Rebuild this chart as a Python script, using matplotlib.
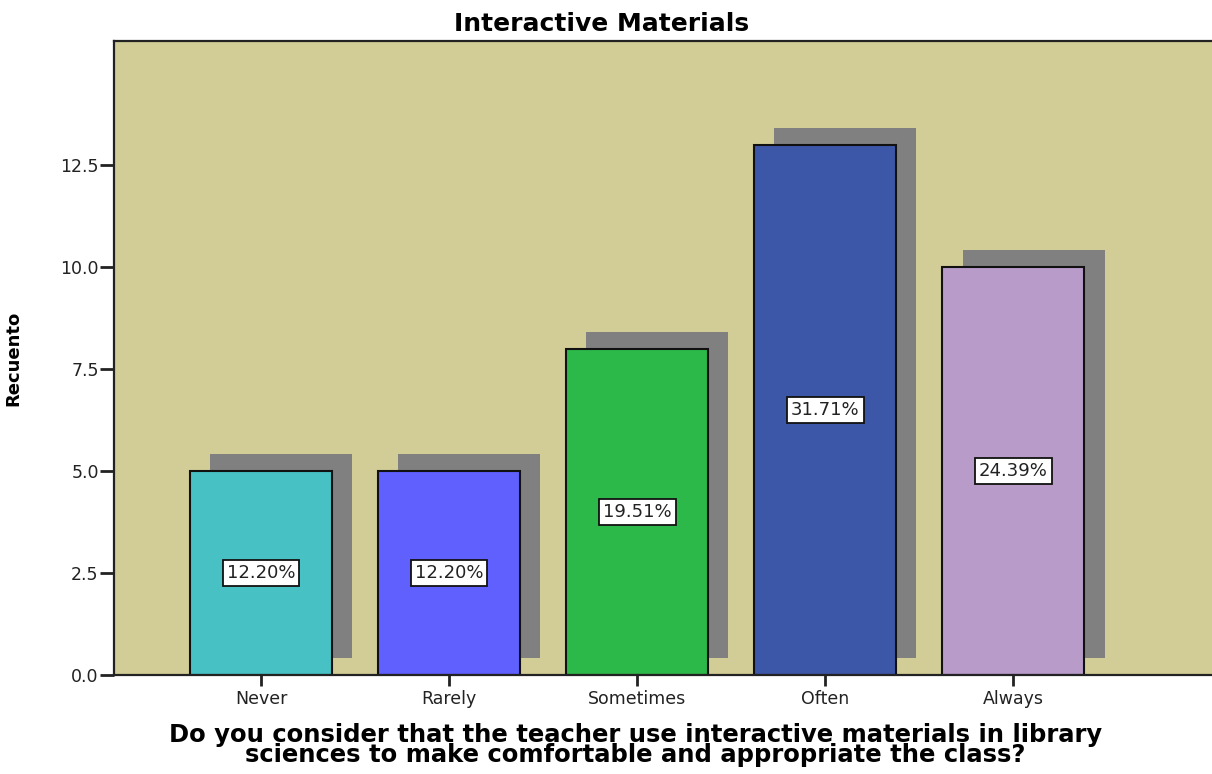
import matplotlib
matplotlib.use("Agg")
import matplotlib.pyplot as plt
import numpy as np

categories = ["Never", "Rarely", "Sometimes", "Often", "Always"]
counts = [5, 5, 8, 13, 10]
percent_labels = ["12.20%", "12.20%", "19.51%", "31.71%", "24.39%"]
bar_colors = ["#47C1C3", "#5F60FE", "#2DB84A", "#3D57A8", "#B89BC9"]
y_ticks = [0.0, 2.5, 5.0, 7.5, 10.0, 12.5]

plt.rcParams["font.family"] = ["DejaVu Sans"]

fig = plt.figure(figsize=(12.12, 7.74), dpi=100)
ax = fig.add_axes([114/1212, 1-675/774, 1-114/1212, (675-41)/774])
ax.set_facecolor("#D2CD96")

x = np.arange(len(categories))
w = 0.755
# shadows
ax.bar(x + 0.107, counts, width=w, bottom=0.41, color="#808080", edgecolor="none", zorder=1)
ax.bar(x, counts, width=w, color=bar_colors, edgecolor="#111111", linewidth=1.5, zorder=2)

for xi, c, lab in zip(x, counts, percent_labels):
    ax.text(xi, c/2, lab, ha="center", va="center", fontsize=13, color="#222222",
            bbox=dict(boxstyle="square,pad=0.22", facecolor="white", edgecolor="#111111", linewidth=1.3),
            zorder=3)

ax.set_xlim(-0.782, 4 + 1.056)
ax.set_ylim(0, 15.54)
ax.set_yticks(y_ticks)
ax.set_yticklabels([f"{t:.1f}" for t in y_ticks], fontsize=12.5, color="#222222")
ax.set_xticks(x)
ax.set_xticklabels(categories, fontsize=12.5, color="#222222")
ax.tick_params(axis="y", length=10, width=2, pad=1, color="#222222")
ax.tick_params(axis="x", length=8, width=2, pad=3, color="#222222")
for s in ["left", "bottom", "top"]:
    ax.spines[s].set_linewidth(1.6)
    ax.spines[s].set_color("#222222")
ax.spines["right"].set_visible(False)

ax.set_title("Interactive Materials", fontsize=18, fontweight="bold", pad=7, x=0.444)
ax.set_ylabel("Recuento", fontsize=13, fontweight="bold")
ax.yaxis.set_label_coords(-0.0838, 0.5)
ax.set_xlabel("Do you consider that the teacher use interactive materials in library\nsciences to make comfortable and appropriate the class?",
              fontsize=17.5, fontweight="bold", linespacing=0.8)
ax.xaxis.set_label_coords(0.475, -0.076)

fig.savefig("out.png", dpi=100)
